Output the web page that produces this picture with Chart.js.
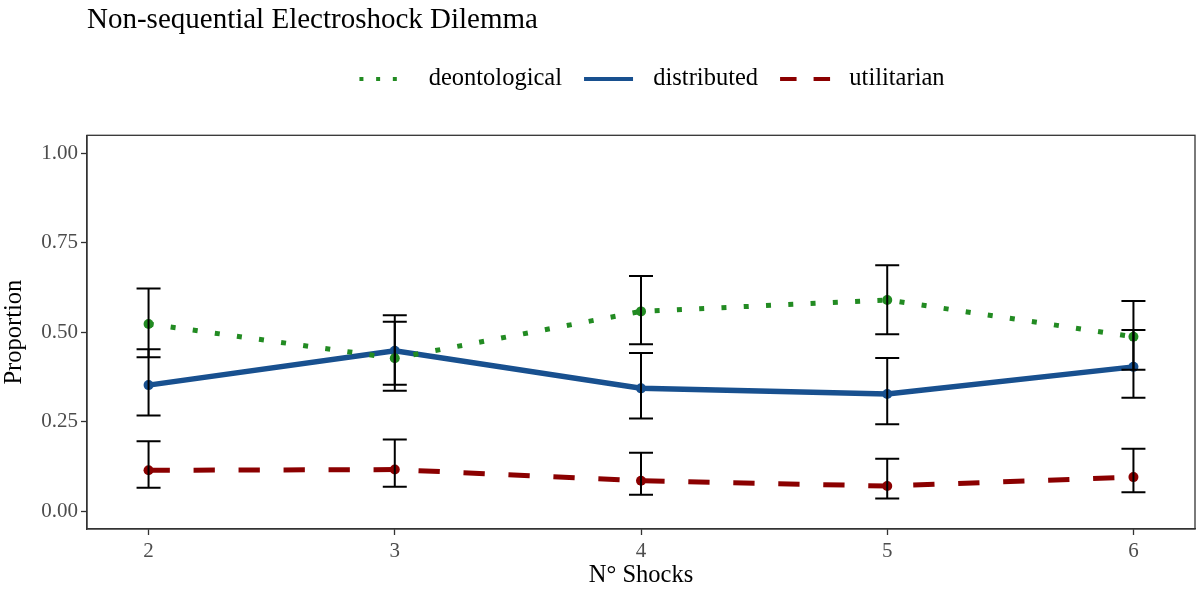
<!DOCTYPE html>
<html>
<head>
<meta charset="utf-8">
<script src="https://cdn.jsdelivr.net/npm/chart.js@4"></script>
<style>
  html, body { margin: 0; padding: 0; background: #ffffff; }
  #wrap { width: 1200px; height: 590px; }
</style>
</head>
<body>
<div id="wrap"><canvas id="c" width="1200" height="590"></canvas></div>
<script>
// ---- data ----
const shocks = [2, 3, 4, 5, 6];
const xTicks = [2, 3, 4, 5, 6];
const yTicks = [0, 0.25, 0.5, 0.75, 1.0];
const seriesNames = ["deontological", "distributed", "utilitarian"];

const deontological = [0.523, 0.427, 0.558, 0.590, 0.487];
const deontLow      = [0.430, 0.336, 0.466, 0.494, 0.395];
const deontHigh     = [0.622, 0.529, 0.657, 0.687, 0.587];

const distributed   = [0.352, 0.448, 0.343, 0.327, 0.403];
const distLow       = [0.267, 0.353, 0.259, 0.243, 0.317];
const distHigh      = [0.452, 0.547, 0.442, 0.428, 0.506];

const utilitarian   = [0.114, 0.116, 0.085, 0.070, 0.095];
const utilLow       = [0.065, 0.068, 0.046, 0.035, 0.053];
const utilHigh      = [0.195, 0.200, 0.163, 0.146, 0.174];

// ---- styles ----
const colors = ["#228B22", "#18508F", "#8B0000"];
const widths = [5, 5.5, 5];
const dashes = [[5, 17.3], [], [21.3, 23.7]];
const legendDashes = [[4, 12.7, 4, 12.7, 4, 200], [49, 200], [16.5, 17, 16.5, 200]];
const serif = "'Liberation Serif', 'DejaVu Serif', serif";

const values = [deontological, distributed, utilitarian];
const lows = [deontLow, distLow, utilLow];
const highs = [deontHigh, distHigh, utilHigh];

const datasets = seriesNames.map((name, i) => ({
  label: name,
  data: shocks.map((s, j) => ({ x: s, y: values[i][j] })),
  borderColor: colors[i],
  backgroundColor: colors[i],
  pointBackgroundColor: colors[i],
  pointBorderWidth: 0,
  pointRadius: 5,
  borderWidth: widths[i],
  borderDash: dashes[i],
  borderCapStyle: 'butt',
  tension: 0,
  fill: false
}));

const errorBars = {
  id: 'errorBars',
  afterDatasetsDraw(chart) {
    const { ctx, scales: { x, y } } = chart;
    ctx.save();
    ctx.strokeStyle = '#000000';
    ctx.lineWidth = 2;
    ctx.setLineDash([]);
    const half = 12;
    for (let i = 0; i < seriesNames.length; i++) {
      for (let j = 0; j < shocks.length; j++) {
        const px = x.getPixelForValue(shocks[j]);
        const yl = y.getPixelForValue(lows[i][j]);
        const yh = y.getPixelForValue(highs[i][j]);
        ctx.beginPath();
        ctx.moveTo(px, yl); ctx.lineTo(px, yh);
        ctx.moveTo(px - half, yl); ctx.lineTo(px + half, yl);
        ctx.moveTo(px - half, yh); ctx.lineTo(px + half, yh);
        ctx.stroke();
      }
    }
    ctx.restore();
  }
};

const panelBorder = {
  id: 'panelBorder',
  afterDraw(chart) {
    const { ctx, chartArea: a } = chart;
    ctx.save();
    ctx.strokeStyle = '#333333';
    ctx.lineWidth = 1.3;
    ctx.setLineDash([]);
    ctx.strokeRect(a.left, a.top, a.right - a.left, a.bottom - a.top);
    ctx.restore();
  }
};

const legendSpacer = {
  id: 'legendSpacer',
  beforeInit(chart) {
    const lg = chart.legend;
    if (!lg) return;
    const orig = lg.fit;
    lg.fit = function () {
      orig.call(this);
      this.height += 34;
    };
  },
  afterLayout(chart) {
    const lg = chart.legend;
    if (!lg) return;
    lg.left += 11;
    lg.right += 11;
  }
};

new Chart(document.getElementById('c'), {
  type: 'line',
  data: { datasets },
  plugins: [errorBars, panelBorder, legendSpacer],
  options: {
    responsive: false,
    animation: false,
    layout: { padding: { left: 0, right: 2, top: 0, bottom: 0 } },
    plugins: {
      tooltip: { enabled: false },
      title: {
        display: true,
        text: 'Non-sequential Electroshock Dilemma',
        align: 'start',
        fullSize: false,
        color: '#000000',
        font: { family: serif, size: 29, weight: 'normal' },
        padding: { top: 3, bottom: 7 }
      },
      legend: {
        display: true,
        position: 'top',
        fullSize: false,
        labels: {
          usePointStyle: true,
          pointStyle: 'line',
          pointStyleWidth: 57,
          padding: 22,
          color: '#000000',
          font: { family: serif, size: 24.5 },
          generateLabels(chart) {
            return seriesNames.map((name, i) => ({
              text: name,
              datasetIndex: i,
              fillStyle: colors[i],
              strokeStyle: colors[i],
              fontColor: '#000000',
              lineWidth: 4,
              lineDash: legendDashes[i],
              lineCap: 'butt',
              pointStyle: 'line',
              hidden: false
            }));
          }
        }
      }
    },
    scales: {
      x: {
        type: 'linear',
        min: 1.75,
        max: 6.25,
        afterBuildTicks(scale) { scale.ticks = xTicks.map(v => ({ value: v })); },
        afterFit(scale) { scale.height = 61; },
        ticks: {
          color: '#4d4d4d',
          font: { family: serif, size: 21 },
          padding: 4,
          callback: (v) => String(v)
        },
        grid: { display: true, drawOnChartArea: false, drawTicks: true, tickLength: 6, color: '#333333', tickWidth: 1.3 },
        border: { display: true, color: '#333333', width: 1.3 },
        title: {
          display: true,
          text: 'N° Shocks',
          color: '#000000',
          font: { family: serif, size: 24.5 },
          padding: { top: 0, bottom: 0 }
        }
      },
      y: {
        type: 'linear',
        min: -0.05,
        max: 1.05,
        afterBuildTicks(scale) { scale.ticks = yTicks.map(v => ({ value: v })); },
        afterFit(scale) { scale.width = 87; },
        ticks: {
          color: '#4d4d4d',
          font: { family: serif, size: 21 },
          padding: 3,
          callback: (v) => Number(v).toFixed(2)
        },
        grid: { display: true, drawOnChartArea: false, drawTicks: true, tickLength: 6, color: '#333333', tickWidth: 1.3 },
        border: { display: true, color: '#333333', width: 1.3 },
        title: {
          display: true,
          text: 'Proportion',
          color: '#000000',
          font: { family: serif, size: 24.5 },
          padding: { top: 0, bottom: 0 }
        }
      }
    }
  }
});
</script>
</body>
</html>
